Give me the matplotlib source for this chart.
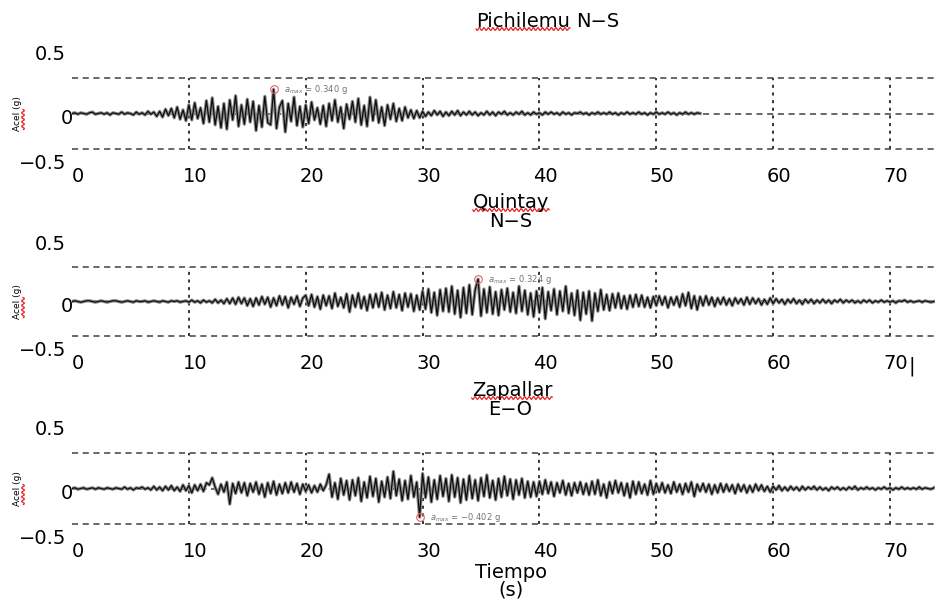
import numpy as np
import matplotlib
matplotlib.use('Agg')
import matplotlib.pyplot as plt
import matplotlib.transforms as mtransforms
from matplotlib.lines import Line2D

# aceleraciones, en centesimas de g, cada 0.25 s
dt = 0.25
pichilemu = [
    0, 1, -1, 1, 0, -1, 1, 2,
    -1, 0, 1, -1, 1, -2, 1, 0,
    -1, 2, -1, 1, 0, -2, 2, -1,
    1, -2, 3, -1, 2, -4, 3, -5,
    6, -3, 7, -6, 9, -8, 5, -10,
    12, -9, 15, -7, 8, -14, 18, -12,
    22, -16, 10, -20, 14, -22, 19, -9,
    25, -18, 12, -15, 20, -12, 17, -24,
    11, -19, 24, -13, -16, 34, -21, 9,
    18, -26, 14, -11, 23, -17, 10, -19,
    12, -14, 16, -9, 8, -15, 11, -18,
    14, -10, 19, -12, 9, -21, 13, -8,
    17, -12, 21, -16, 11, -18, 23, -10,
    19, -13, 9, -17, 12, -8, 14, -11,
    7, -10, 9, -6, 5, -7, 4, -6,
    3, -4, 2, -3, 4, -2, 3, -4,
    2, -3, 3, -2, 4, -3, 2, -2,
    3, -2, 2, -3, 1, -2, 3, -2,
    2, -3, 2, -1, 3, -2, 1, -2,
    2, -1, 3, -2, 1, -2, 2, -1,
    1, -2, 2, -1, 2, -1, 1, -2,
    2, -1, 1, -2, 1, 0, 2, -1,
    1, -2, 1, -1, 2, -1, 1, -1,
    2, -1, 1, -2, 1, -1, 2, -1,
    1, -1, 2, -1, 1, -2, 1, -1,
    2, -1, 1, -1, 2, -1, 1, -2,
    1, -1, 2, -1, 1, -1, 1, 0,
]
quintay = [
    0, 1, 0, -1, 0, 1, 1, 0,
    -1, 0, 1, 0, -1, 0, 1, 1,
    0, -1, 0, 1, 0, -1, 1, 0,
    0, 1, -1, 0, 1, 0, -1, 1,
    0, -1, 1, 0, 1, -1, 0, 1,
    -1, 2, -1, 1, -2, 2, -1, 1,
    -2, 3, -2, 2, -3, 4, -3, 5,
    -4, 6, -3, 5, -6, 4, -7, 5,
    -5, 7, -4, 6, -8, 5, -6, 8,
    -5, 7, -9, 6, -4, 8, -7, 5,
    9, -6, 10, -8, 7, -11, 9, -6,
    8, -10, 12, -7, 6, -9, 11, -15,
    9, -8, 12, -10, 7, -13, 10, -9,
    11, -8, 13, -12, 9, -10, 14, -9,
    10, -13, 12, -8, 11, -14, 9, -12,
    15, -11, 18, -16, 13, -20, 17, -14,
    19, -15, 22, -18, 16, -23, 20, -17,
    24, -19, 17, 32.4, -21, 18, -16, 21,
    -18, 14, -20, 17, -12, 19, -15, 13,
    -17, 22, -14, 16, -19, 12, -22, 15,
    -16, 20, -25, 14, -13, 18, -19, 15,
    -14, 22, -17, 12, -20, 16, -27, 13,
    -18, 15, -28, 12, -14, 17, -12, 10,
    -13, 11, -9, 12, -10, 8, -11, 9,
    -8, 10, -7, 9, -8, 6, -9, 7,
    -6, 8, -5, 7, -9, 6, -5, 7,
    -8, 11, -6, 13, -10, 8, -12, 7,
    -6, 8, -5, 6, -7, 5, -4, 6,
    -5, 4, -6, 5, -3, 4, -5, 6,
    -4, 5, -3, 4, -5, 3, -4, 5,
    -3, 4, -2, 3, -4, 3, -2, 4,
    -3, 2, -4, 3, -2, 3, -3, 2,
    -2, 3, -2, 2, -3, 2, -1, 3,
    -2, 2, -1, 2, -2, 1, -2, 2,
    -1, 2, -2, 1, -1, 2, -1, 1,
    -1, 1, -2, 1, 0, 2, -1, 1,
    -1, 0, 1, -1, 1, 0, -1, 0,
]
zapallar = [
    0, 1, -1, 0, 1, -1, 0, 1,
    -1, 1, 0, -1, 1, 0, -1, 1,
    0, -1, 2, -1, 1, -2, 1, 0,
    2, -1, 1, -2, 3, -2, 2, -3,
    3, -2, 4, -3, 2, -4, 5, -3,
    4, -6, 5, -3, 6, -4, 8, 5,
    15, 2, -8, 6, -5, 9, -22, 7,
    -7, 9, -6, 8, -10, 7, -5, 9,
    -8, 6, -12, 8, -7, 10, -9, 6,
    -7, 8, -6, 9, -5, 7, -8, 6,
    -4, 5, -6, 4, -5, 6, -3, 5,
    20, -12, 8, -15, 14, -9, 11, -16,
    12, -10, 15, -18, 9, -13, 17, -11,
    14, -19, 10, -12, 16, -14, 24, -10,
    13, -17, 11, -15, 18, -12, 9, -40.2,
    21, -13, 16, -19, 12, -15, 18, -11,
    14, -18, 19, -12, 15, -20, 13, -16,
    18, -14, 12, -17, 15, -11, 19, -13,
    11, -16, 14, -12, 17, -10, 13, -15,
    12, -9, 14, -13, 10, -12, 9, -11,
    10, -8, 12, -7, 9, -11, 8, -6,
    11, -9, 7, -10, 8, -6, 9, -8,
    7, -9, 10, -8, 12, -10, 6, -13,
    9, -7, 11, -6, 8, -10, 7, -13,
    10, -8, 9, -7, 6, -9, 11, -8,
    7, -5, 8, -6, 5, -7, 9, -5,
    6, -8, 7, -5, 9, -11, 6, -4,
    7, -5, 6, -8, 5, -6, 7, -5,
    6, -4, 5, -7, 6, -4, 5, -6,
    4, -5, 6, -3, 5, -4, 3, -5,
    3, -2, 4, -3, 2, -3, 3, -2,
    2, -3, 3, -2, 2, -1, 3, -2,
    2, -2, 1, -3, 2, -1, 2, -2,
    1, -2, 2, -1, 3, -2, 1, -1,
    2, -1, 1, -2, 1, -1, 2, -1,
    1, -2, 1, -1, 2, -1, 1, -1,
    1, -1, 2, -1, 1, 0, -1, 1,
]
series = [pichilemu, quintay, zapallar]
x_ticks = [0, 10, 20, 30, 40, 50, 60, 70]
y_labels = ['0.5', '0', '\u22120.5']

W, H = 939, 601
fig = plt.figure(figsize=(W / 100, H / 100), dpi=100)
plt.rcParams['font.family'] = 'DejaVu Sans'
FS = 14


def px(x, y):
    return x / W, 1 - y / H


def squiggle(x0, x1, y0, vertical=False):
    s = np.linspace(0, x1 - x0, int((x1 - x0) * 2))
    w = 1.4 * np.sin(s * 2 * np.pi / 4.5)
    if vertical:
        xs, ys = y0 + w, x0 + s
    else:
        xs, ys = x0 + s, y0 + w
    fig.add_artist(Line2D(xs / W, 1 - ys / H, color='#e8242a', lw=0.9,
                          transform=fig.transFigure))


def word(x, y, s, wavy=False):
    t = fig.text(*px(x, y), s, ha='center', va='baseline', fontsize=FS)
    if wavy:
        bb = t.get_window_extent(renderer=fig.canvas.get_renderer())
        squiggle(bb.x0, bb.x1, y + 2)


# caja de cada eje en pixeles: izquierda, arriba, derecha, abajo
boxes = [(72, 78, 935, 149), (72, 267, 935, 336), (72, 453, 935, 524)]
off = mtransforms.ScaledTranslation(6 / 100, 0, fig.dpi_scale_trans)

for acc, (l, t, r, b) in zip(series, boxes):
    ax = fig.add_axes([l / W, 1 - b / H, (r - l) / W, (b - t) / H])
    acc = np.array(acc, dtype=float) / 100
    tt = np.arange(len(acc)) * dt
    for v in x_ticks[1:]:
        ax.axvline(v, color='k', lw=1.1, ls=(0, (2, 3)), zorder=1)
    for y in (-0.5, 0, 0.5):
        ax.axhline(y, color='0.25', lw=1.1, ls=(0, (4, 3)), zorder=1, clip_on=False)
    # trazo con halo gris como en la captura
    ax.plot(tt, acc, color='0.55', lw=2.4, zorder=2)
    ax.plot(tt, acc, color='0.05', lw=0.9, zorder=2)

    i = np.argmax(np.abs(acc))
    ax.plot(tt[i], acc[i], 'o', mfc='none', mec='#f06060', mew=0.8, ms=5.5, zorder=3)
    ax.annotate(r'$a_{max}$ = ' + ('%.3f' % acc[i]).replace('-', '\u2212') + ' g',
                (tt[i], acc[i]), xytext=(10, 0), textcoords='offset pixels',
                va='center', fontsize=6, color='0.45')

    ax.set_xlim(0, 73.85)
    ax.set_ylim(-0.5, 0.5)
    ax.set_xticks(x_ticks)
    ax.set_yticks([])
    ax.tick_params(axis='x', length=0, pad=13, labelsize=FS)
    for lab in ax.get_xticklabels():
        lab.set_transform(lab.get_transform() + off)
    for s in ax.spines.values():
        s.set_visible(False)

    for lab, yy, xx in zip(y_labels, [1.33, 0.43, -0.21], [-0.007, 0.001, -0.006]):
        ax.text(xx, yy, lab, transform=ax.transAxes, ha='right', va='center', fontsize=FS)
    ax.text(-0.063, 0.5, 'Acel (g)', transform=ax.transAxes, rotation=90,
            ha='center', va='center', fontsize=6.5)
    squiggle((t + b) / 2 - 4, (t + b) / 2 + 16, 23, vertical=True)

word(523, 27, 'Pichilemu', wavy=True)
word(598, 27, 'N\u2212S')
word(511, 208, 'Quintay', wavy=True)
word(511, 227, 'N\u2212S')
word(512, 396, 'Zapallar', wavy=True)
word(510, 415, 'E\u2212O')
word(511, 578, 'Tiempo')
word(511, 596, '(s)')
fig.text(*px(912, 366), '|', ha='center', va='center', fontsize=FS)

fig.savefig('out.png', dpi=100)
